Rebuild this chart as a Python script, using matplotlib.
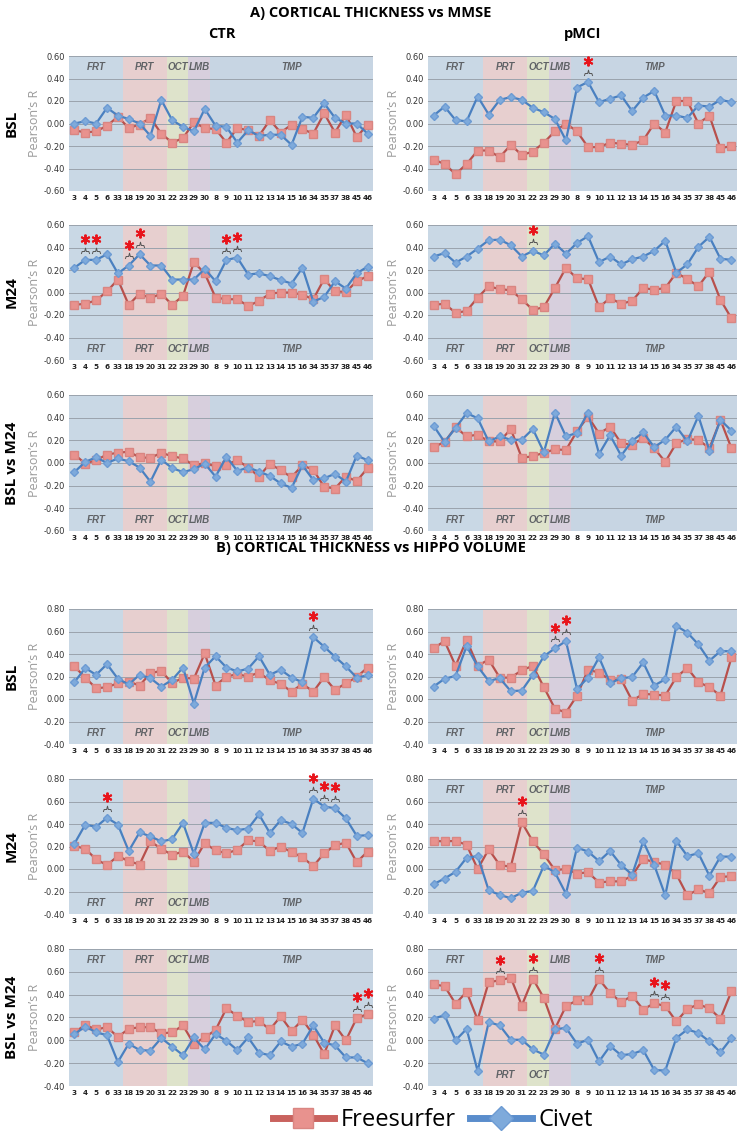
import matplotlib.pyplot as plt
from matplotlib.path import Path
from matplotlib.lines import Line2D
from matplotlib import transforms

plt.rcParams['font.family'] = ['Open Sans', 'DejaVu Sans']

# brain regions (x categories) and lobe grouping
regions = ['3', '4', '5', '6', '33', '18', '19', '20', '31', '22', '23', '29', '30', '8',
           '9', '10', '11', '12', '13', '14', '15', '16', '34', '35', '37', '38', '45', '46']
lobe_names = ['FRT', 'PRT', 'OCT', 'LMB', 'TMP']
lobe_sizes = [5, 4, 2, 2, 15]

# A) cortical thickness vs MMSE
a_ctr_bsl_fs = [-0.06, -0.08, -0.07, -0.02, 0.06, -0.04, -0.01, 0.05, -0.09, -0.17, -0.13, 0.01, -0.04, -0.05,
                -0.17, -0.04, -0.06, -0.11, 0.03, -0.08, -0.01, -0.05, -0.09, 0.09, -0.08, 0.08, -0.12, -0.01]
a_ctr_bsl_civet = [0.00, 0.02, 0.00, 0.14, 0.07, 0.04, 0.00, -0.11, 0.21, 0.03, -0.03, -0.07, 0.13, -0.02,
                   -0.03, -0.17, -0.06, -0.11, -0.10, -0.10, -0.19, 0.06, 0.05, 0.18, 0.05, 0.00, 0.00, -0.09]
a_pmci_bsl_fs = [-0.32, -0.36, -0.45, -0.36, -0.24, -0.24, -0.30, -0.19, -0.28, -0.25, -0.17, -0.07, 0.00, -0.07,
                 -0.21, -0.21, -0.17, -0.18, -0.19, -0.15, 0.00, -0.08, 0.20, 0.20, 0.00, 0.07, -0.22, -0.20]
a_pmci_bsl_civet = [0.07, 0.15, 0.03, 0.02, 0.24, 0.08, 0.21, 0.235, 0.21, 0.14, 0.10, 0.04, -0.15, 0.32,
                    0.37, 0.19, 0.22, 0.25, 0.11, 0.23, 0.29, 0.07, 0.07, 0.05, 0.16, 0.15, 0.21, 0.19]
a_ctr_m24_fs = [-0.11, -0.10, -0.07, 0.01, 0.115, -0.11, -0.01, -0.05, -0.01, -0.11, -0.03, 0.27, 0.17, -0.045,
                -0.06, -0.06, -0.12, -0.075, -0.01, 0.00, 0.00, -0.02, -0.06, 0.12, 0.01, 0.005, 0.10, 0.145]
a_ctr_m24_civet = [0.22, 0.29, 0.29, 0.34, 0.17, 0.24, 0.34, 0.24, 0.24, 0.115, 0.115, 0.115, 0.21, 0.10,
                   0.29, 0.31, 0.16, 0.17, 0.145, 0.11, 0.08, 0.22, -0.08, -0.04, 0.10, 0.035, 0.17, 0.23]
a_pmci_m24_fs = [-0.11, -0.10, -0.18, -0.165, -0.045, 0.055, 0.03, 0.02, -0.06, -0.155, -0.13, 0.04, 0.22, 0.125,
                 0.12, -0.13, -0.05, -0.10, -0.075, 0.04, 0.025, 0.04, 0.175, 0.12, 0.055, 0.185, -0.065, -0.23]
a_pmci_m24_civet = [0.32, 0.35, 0.265, 0.32, 0.39, 0.465, 0.47, 0.42, 0.32, 0.37, 0.33, 0.435, 0.345, 0.44,
                    0.50, 0.27, 0.32, 0.25, 0.295, 0.32, 0.37, 0.46, 0.175, 0.25, 0.405, 0.495, 0.30, 0.29]
a_ctr_diff_fs = [0.075, -0.005, 0.025, 0.075, 0.09, 0.10, 0.05, 0.045, 0.09, 0.06, 0.04, -0.02, 0.00, -0.03,
                 -0.015, 0.025, -0.04, -0.12, -0.005, -0.065, -0.125, -0.02, -0.06, -0.21, -0.225, -0.12, -0.16, -0.045]
a_ctr_diff_civet = [-0.08, 0.01, 0.05, 0.00, 0.04, 0.015, -0.04, -0.165, 0.03, -0.045, -0.08, -0.055, -0.005, -0.12,
                    0.055, -0.07, -0.04, -0.075, -0.115, -0.18, -0.22, -0.02, -0.15, -0.135, -0.095, -0.165, 0.065, 0.025]
a_pmci_diff_fs = [0.14, 0.185, 0.315, 0.235, 0.25, 0.19, 0.19, 0.30, 0.045, 0.06, 0.09, 0.12, 0.115, 0.28,
                  0.41, 0.26, 0.32, 0.175, 0.16, 0.22, 0.13, 0.01, 0.175, 0.21, 0.205, 0.13, 0.38, 0.13]
a_pmci_diff_civet = [0.33, 0.185, 0.31, 0.44, 0.395, 0.19, 0.235, 0.205, 0.205, 0.30, 0.095, 0.445, 0.235, 0.265,
                     0.445, 0.08, 0.245, 0.065, 0.195, 0.27, 0.14, 0.205, 0.32, 0.19, 0.415, 0.11, 0.38, 0.285]

# B) cortical thickness vs hippocampal volume
b_ctr_bsl_fs = [0.29, 0.19, 0.095, 0.105, 0.14, 0.155, 0.12, 0.23, 0.25, 0.14, 0.19, 0.18, 0.405, 0.12,
                0.20, 0.22, 0.20, 0.235, 0.165, 0.135, 0.065, 0.135, 0.065, 0.195, 0.08, 0.14, 0.195, 0.28]
b_ctr_bsl_civet = [0.15, 0.275, 0.215, 0.31, 0.18, 0.13, 0.215, 0.185, 0.11, 0.17, 0.28, -0.04, 0.28, 0.38,
                   0.28, 0.245, 0.27, 0.38, 0.215, 0.26, 0.19, 0.15, 0.55, 0.465, 0.375, 0.29, 0.19, 0.21]
b_pmci_bsl_fs = [0.45, 0.515, 0.295, 0.525, 0.295, 0.35, 0.19, 0.19, 0.255, 0.295, 0.105, -0.085, -0.12, 0.03,
                 0.26, 0.235, 0.17, 0.175, -0.015, 0.045, 0.04, 0.03, 0.195, 0.275, 0.15, 0.105, 0.03, 0.37]
b_pmci_bsl_civet = [0.11, 0.18, 0.205, 0.47, 0.29, 0.16, 0.185, 0.07, 0.075, 0.215, 0.38, 0.45, 0.515, 0.09,
                    0.19, 0.37, 0.14, 0.185, 0.195, 0.325, 0.12, 0.175, 0.65, 0.59, 0.485, 0.34, 0.425, 0.425]
b_ctr_m24_fs = [0.205, 0.18, 0.085, 0.035, 0.115, 0.07, 0.04, 0.245, 0.18, 0.125, 0.155, 0.065, 0.23, 0.165,
                0.14, 0.17, 0.255, 0.245, 0.16, 0.20, 0.15, 0.105, 0.025, 0.14, 0.21, 0.235, 0.06, 0.155]
b_ctr_m24_civet = [0.225, 0.395, 0.375, 0.455, 0.395, 0.16, 0.325, 0.29, 0.245, 0.265, 0.41, 0.135, 0.41, 0.41,
                   0.365, 0.345, 0.36, 0.485, 0.32, 0.435, 0.40, 0.32, 0.625, 0.555, 0.54, 0.45, 0.295, 0.30]
b_pmci_m24_fs = [0.25, 0.245, 0.25, 0.215, 0.00, 0.175, 0.035, 0.02, 0.415, 0.245, 0.13, -0.01, 0.00, -0.04,
                 -0.03, -0.12, -0.11, -0.11, -0.06, 0.09, 0.06, 0.04, -0.045, -0.235, -0.18, -0.215, -0.07, -0.065]
b_pmci_m24_civet = [-0.135, -0.085, -0.025, 0.10, 0.115, -0.19, -0.23, -0.26, -0.21, -0.195, 0.03, -0.03, -0.22, 0.19,
                    0.155, 0.07, 0.16, 0.035, -0.05, 0.245, 0.035, -0.235, 0.25, 0.115, 0.14, -0.06, 0.11, 0.11]
b_ctr_diff_fs = [0.07, 0.135, 0.095, 0.115, 0.03, 0.10, 0.115, 0.115, 0.06, 0.07, 0.13, -0.03, 0.025, 0.09,
                 0.28, 0.215, 0.16, 0.17, 0.095, 0.21, 0.08, 0.18, 0.05, -0.12, 0.13, 0.00, 0.195, 0.23]
b_ctr_diff_civet = [0.055, 0.12, 0.07, 0.045, -0.19, -0.03, -0.085, -0.09, 0.02, -0.055, -0.13, 0.025, -0.08, 0.055,
                    -0.005, -0.085, 0.025, -0.11, -0.13, -0.01, -0.055, -0.03, 0.13, -0.02, -0.045, -0.15, -0.15, -0.20]
b_pmci_diff_fs = [0.49, 0.475, 0.32, 0.425, 0.18, 0.51, 0.525, 0.55, 0.305, 0.54, 0.37, 0.10, 0.30, 0.35,
                  0.35, 0.535, 0.415, 0.335, 0.39, 0.27, 0.325, 0.30, 0.165, 0.275, 0.315, 0.28, 0.19, 0.43]
b_pmci_diff_civet = [0.19, 0.22, 0.00, 0.10, -0.27, 0.16, 0.13, 0.005, 0.005, -0.08, -0.125, 0.095, 0.11, -0.03,
                     0.005, -0.185, -0.05, -0.13, -0.12, -0.085, -0.26, -0.265, 0.02, 0.095, 0.065, -0.01, -0.105, 0.02]

# significant regions: (series, region)
a_pmci_bsl_stars = [('civet', '9')]
a_ctr_m24_stars = [('civet', '4'), ('civet', '5'), ('civet', '18'), ('civet', '19'), ('civet', '9'), ('civet', '10')]
a_pmci_m24_stars = [('civet', '22')]
b_ctr_bsl_stars = [('civet', '34')]
b_pmci_bsl_stars = [('civet', '29'), ('civet', '30')]
b_ctr_m24_stars = [('civet', '6'), ('civet', '34'), ('civet', '35'), ('civet', '37')]
b_pmci_m24_stars = [('fs', '31')]
b_ctr_diff_stars = [('fs', '45'), ('fs', '46')]
b_pmci_diff_stars = [('fs', '19'), ('fs', '22'), ('fs', '10'), ('fs', '15'), ('fs', '16')]

# styling
lobe_colors = ['#c9d8e5', '#e7cfcf', '#dee3cb', '#d7cfdd', '#c7d5e3']
fs_line, fs_face = '#b8504c', '#e8928e'
cv_line, cv_face = '#4a80c0', '#7eaadb'
W, H = 742, 1142
col_x = [(69, 373), (428, 737)]
row_y = [(56, 191), (225, 360), (395, 531), (609, 744), (779, 914), (949, 1086)]

brace = Path([(-1, -0.6), (-0.8, 0), (-0.2, 0), (0, 0.8), (0.2, 0), (0.8, 0), (1, -0.6)])

fig = plt.figure(figsize=(W / 100, H / 100), dpi=100)


def panel(row, col, fs, civet, stars, ylim, tags):
    x0, x1 = col_x[col]
    y0, y1 = row_y[row]
    ax = fig.add_axes([x0 / W, 1 - y1 / H, (x1 - x0) / W, (y1 - y0) / H])
    xs = [i + 0.5 for i in range(len(regions))]
    start = 0
    for name, size, color, pos in zip(lobe_names, lobe_sizes, lobe_colors, tags):
        ax.axvspan(start, start + size, color=color, lw=0, zorder=0)
        ty = ylim[1] - 0.1 if pos == 't' else ylim[0] + 0.1
        ax.text(start + size / 2, ty, name, ha='center', va='center', fontsize=7.0,
                style='italic', fontweight='bold', color='#5f6266', family='Liberation Sans')
        start += size
    ax.set_xlim(0, len(regions))
    ax.set_ylim(*ylim)
    yt = [round(ylim[0] + 0.2 * k, 2) for k in range(7)]
    ax.set_yticks(yt)
    ax.set_yticklabels(['%.2f' % v for v in yt], fontsize=6, color='#333333', family='DejaVu Sans')
    ax.grid(axis='y', color='#9aa3ad', lw=0.7, zorder=1)
    ax.set_xticks(xs)
    ax.set_xticklabels(regions, fontsize=5.2, fontweight='bold', color='#222222', family='DejaVu Sans')
    ax.tick_params(length=0, pad=3)
    for s in ax.spines.values():
        s.set_visible(False)
    ax.set_ylabel('Pearson’s R', fontsize=9, color='#9a9a9a', labelpad=2)
    ax.plot(xs, fs, color=fs_line, lw=1.6, marker='s', ms=5.5, mfc=fs_face, mec='#d98682', zorder=3)
    ax.plot(xs, civet, color=cv_line, lw=1.6, marker='D', ms=4.2, mfc=cv_face, mec='#6d9bd3', zorder=4)
    star_tr = transforms.offset_copy(ax.transData, fig=fig, y=15, units='points')
    brace_tr = transforms.offset_copy(ax.transData, fig=fig, y=6.5, units='points')
    for series, reg in stars:
        i = regions.index(reg)
        v = civet[i] if series == 'civet' else fs[i]
        ax.plot(xs[i], v, marker=(6, 2, 0), ms=7, mew=1.4, color='#e8141b', transform=star_tr,
                zorder=5, clip_on=False)
        ax.plot(xs[i], v, marker=brace, ms=6, mfc='none', mec='#555555', mew=0.7,
                transform=brace_tr, zorder=5, clip_on=False)
    return ax


ya, yb = (-0.6, 0.6), (-0.4, 0.8)
panel(0, 0, a_ctr_bsl_fs, a_ctr_bsl_civet, [], ya, 'ttttt')
panel(0, 1, a_pmci_bsl_fs, a_pmci_bsl_civet, a_pmci_bsl_stars, ya, 'ttttt')
panel(1, 0, a_ctr_m24_fs, a_ctr_m24_civet, a_ctr_m24_stars, ya, 'bbbbb')
panel(1, 1, a_pmci_m24_fs, a_pmci_m24_civet, a_pmci_m24_stars, ya, 'bbbbb')
panel(2, 0, a_ctr_diff_fs, a_ctr_diff_civet, [], ya, 'bbbbb')
panel(2, 1, a_pmci_diff_fs, a_pmci_diff_civet, [], ya, 'bbbbb')
panel(3, 0, b_ctr_bsl_fs, b_ctr_bsl_civet, b_ctr_bsl_stars, yb, 'bbbbb')
panel(3, 1, b_pmci_bsl_fs, b_pmci_bsl_civet, b_pmci_bsl_stars, yb, 'bbbbb')
panel(4, 0, b_ctr_m24_fs, b_ctr_m24_civet, b_ctr_m24_stars, yb, 'bbbbb')
panel(4, 1, b_pmci_m24_fs, b_pmci_m24_civet, b_pmci_m24_stars, yb, 'ttttt')
panel(5, 0, b_ctr_diff_fs, b_ctr_diff_civet, b_ctr_diff_stars, yb, 'ttttt')
panel(5, 1, b_pmci_diff_fs, b_pmci_diff_civet, b_pmci_diff_stars, yb, 'tbbtt')

# titles and row / column labels
fig.text(0.5, 1 - 13 / H, 'A) CORTICAL THICKNESS vs MMSE', ha='center', va='center', fontsize=10.5, fontweight='bold')
fig.text(0.5, 1 - 548 / H, 'B) CORTICAL THICKNESS vs HIPPO VOLUME', ha='center', va='center', fontsize=10.5, fontweight='bold')
fig.text(222 / W, 1 - 34 / H, 'CTR', ha='center', va='center', fontsize=10.5, fontweight='bold')
fig.text(583 / W, 1 - 34 / H, 'pMCI', ha='center', va='center', fontsize=10.5, fontweight='bold')
row_names = ['BSL', 'M24', 'BSL vs M24', 'BSL', 'M24', 'BSL vs M24']
for name, (y0, y1) in zip(row_names, row_y):
    fig.text(12 / W, 1 - (y0 + y1) / 2 / H, name, rotation=90, ha='center', va='center',
             fontsize=11, fontweight='bold')

handles = [Line2D([], [], color='#c9625e', lw=5, marker='s', ms=15, mfc=fs_face, mec='#d98682'),
           Line2D([], [], color='#5a8dcc', lw=5, marker='D', ms=12, mfc=cv_face, mec='#6d9bd3')]
fig.legend(handles, ['Freesurfer', 'Civet'], loc='center', bbox_to_anchor=(433 / W, 1 - 1120 / H),
           ncol=2, frameon=False, fontsize=17, handlelength=2.6, columnspacing=0.6, handletextpad=0.3)

fig.savefig('out.png', dpi=100)
